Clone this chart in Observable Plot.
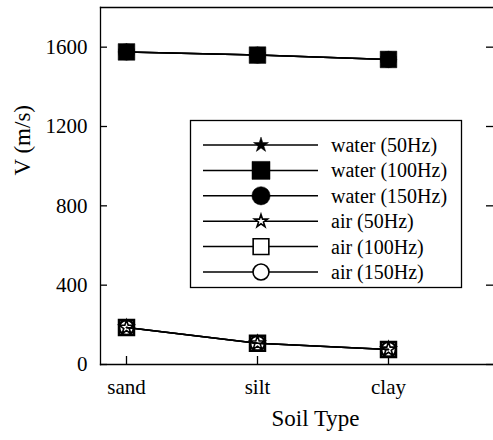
<!DOCTYPE html>
<html><head><meta charset="utf-8">
<script src="https://cdn.jsdelivr.net/npm/d3@7"></script>
<script src="https://cdn.jsdelivr.net/npm/@observablehq/plot@0.6"></script>
<style>html,body{margin:0;padding:0;background:#fff} svg{display:block}</style>
</head><body><div id="chart"></div>
<script>
// ---- data ----
const soils = ["sand", "silt", "clay"];
const water50 = [1576, 1560, 1538];
const water100 = [1576, 1560, 1538];
const water150 = [1576, 1560, 1538];
const air50 = [186, 107, 76];
const air100 = [186, 107, 76];
const air150 = [186, 107, 76];
const yTicks = [0, 400, 800, 1200, 1600];
const seriesNames = ["water (50Hz)", "water (100Hz)", "water (150Hz)", "air (50Hz)", "air (100Hz)", "air (150Hz)"];
const xLabel = "Soil Type";
const yLabel = "V (m/s)";

// ---- build ----
const seriesValues = [water50, water100, water150, air50, air100, air150];
const symbols = ["star", "square", "circle", "star", "square", "circle"];
const filled = [true, true, true, false, false, false];
const dotR = [5, 9.4, 8.2, 4.5, 8.4, 7.4];
const dotSW = [0.5, 0.5, 0.5, 1.6, 2.6, 2.2];
const rows = seriesNames.flatMap((name, i) => soils.map((s, j) => ({series: name, soil: s, v: seriesValues[i][j], idx: i})));

const W = 493, H = 440, mL = 100, mR = 0, mT = 7, mB = 76;
const pw = W - mL - mR, ph = H - mT - mB;
const font = "Liberation Serif";

const dotMarks = seriesNames.map((name, i) => Plot.dot(rows.filter(d => d.idx === i), {
  x: "soil", y: "v", symbol: () => symbols[i], r: dotR[i],
  fill: filled[i] ? "black" : "none",
  stroke: "black", strokeWidth: dotSW[i]
}));

const chart = Plot.plot({
  width: W, height: H,
  marginLeft: mL, marginRight: mR, marginTop: mT, marginBottom: mB,
  style: {fontFamily: font, fontSize: "21px", background: "white", color: "black"},
  x: {type: "point", domain: soils, padding: 0.5, align: 0.2},
  y: {domain: [0, 1800]},
  symbol: {type: "identity"},
  marks: [
    Plot.frame({anchor: "left", strokeWidth: 1.3}),
    Plot.frame({anchor: "top", strokeWidth: 1.3}),
    Plot.frame({anchor: "bottom", strokeWidth: 1.3}),
    Plot.tickY(yTicks, {y: d => d, insetRight: pw - 7, strokeWidth: 1.3}),
    Plot.tickY(yTicks, {y: d => d, insetLeft: pw - 7, strokeWidth: 1.3}),
    Plot.tickX(soils, {x: d => d, insetTop: ph - 8, strokeWidth: 1.3}),
    Plot.axisY(yTicks, {tickSize: 0, tickPadding: 13, label: null, fontSize: 21, tickFormat: d => String(d), fontFamily: font}),
    Plot.axisX(soils, {tickSize: 0, tickPadding: 15, label: null, fontSize: 21, fontFamily: font}),
    Plot.text([yLabel], {text: d => d, frameAnchor: "left", rotate: -90, dx: -78, dy: -10.5, fontSize: 23, fontFamily: font}),
    Plot.text([xLabel], {text: d => d, frameAnchor: "bottom", dx: 18.5, dy: 61.5, fontSize: 23, fontFamily: font}),
    Plot.line(rows, {x: "soil", y: "v", z: "series", stroke: "black", strokeWidth: 1.5}),
    ...dotMarks
  ]
});

// ---- legend ----
const svg = d3.select(chart);
const lg = svg.append("g");
lg.append("rect").attr("x", 190.5).attr("y", 120.5).attr("width", 271).attr("height", 167)
  .attr("fill", "white").attr("stroke", "black").attr("stroke-width", 1.3);
const legSym = [d3.symbolStar, d3.symbolSquare, d3.symbolCircle, d3.symbolStar, d3.symbolSquare, d3.symbolCircle];
const legSize = [70, 324, 263, 52, 246, 201];
seriesNames.forEach((name, i) => {
  const y = 145 + i * 25.4;
  lg.append("line").attr("x1", 203).attr("x2", 318).attr("y1", y).attr("y2", y)
    .attr("stroke", "black").attr("stroke-width", 1.5);
  lg.append("path").attr("transform", `translate(261,${y})`)
    .attr("d", d3.symbol(legSym[i], legSize[i])())
    .attr("fill", filled[i] ? "black" : "white")
    .attr("stroke", "black").attr("stroke-width", filled[i] ? 0.5 : 1.6);
  lg.append("text").attr("x", 331).attr("y", y).attr("dy", "0.35em").attr("fill", "black")
    .attr("font-size", 20).attr("font-family", font).attr("text-anchor", "start").text(name);
});

document.getElementById("chart").appendChild(chart);
</script>
</body></html>
